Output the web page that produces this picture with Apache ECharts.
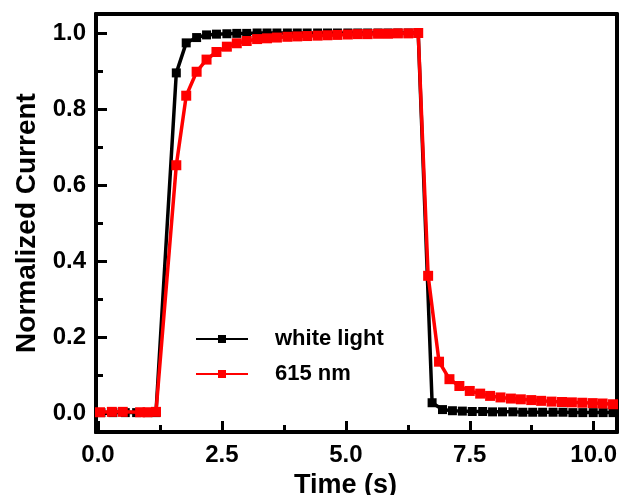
<!DOCTYPE html>
<html><head><meta charset="utf-8">
<script src="https://cdn.jsdelivr.net/npm/echarts@6/dist/echarts.min.js"></script>
<style>html,body{margin:0;padding:0;background:#fff}#c{width:623px;height:495px}</style>
</head><body><div id="c"></div>
<script>
// ---- data ----
const timeWhite = [0.06,0.30,0.55,0.78,1.00,1.17,1.58,1.78,1.99,2.19,2.39,2.60,2.80,3.00,3.21,3.41,3.61,3.82,4.02,4.22,4.43,4.63,4.83,5.04,5.24,5.44,5.65,5.85,6.05,6.26,6.46,6.74,6.95,7.15,7.35,7.55,7.76,7.96,8.16,8.37,8.57,8.77,8.97,9.18,9.38,9.58,9.78,9.99,10.19,10.39];
const whiteLight = [0.001,0.001,0.001,0.001,0.001,0.001,0.895,0.974,0.988,0.995,0.997,0.998,0.999,0.999,1.0,1.0,1.0,1.0,1.0,1.0,1.0,1.0,1.0,1.0,1.0,1.0,1.0,1.0,1.0,1.0,1.0,0.027,0.009,0.006,0.005,0.004,0.004,0.003,0.003,0.003,0.002,0.002,0.002,0.002,0.002,0.001,0.001,0.001,0.001,0.001];
const timeRed = [0.04,0.28,0.50,0.85,1.00,1.17,1.58,1.78,1.99,2.19,2.39,2.60,2.80,3.00,3.21,3.41,3.61,3.82,4.02,4.22,4.43,4.63,4.83,5.04,5.24,5.44,5.65,5.85,6.05,6.26,6.46,6.66,6.88,7.09,7.29,7.50,7.71,7.91,8.12,8.33,8.53,8.74,8.94,9.15,9.36,9.56,9.77,9.98,10.18,10.39];
const nm615 = [0.002,0.003,0.003,0.002,0.002,0.003,0.652,0.835,0.898,0.930,0.950,0.964,0.973,0.979,0.984,0.986,0.988,0.990,0.991,0.992,0.993,0.994,0.995,0.996,0.997,0.997,0.998,0.998,0.999,0.999,1.0,0.361,0.135,0.089,0.071,0.058,0.051,0.045,0.041,0.038,0.036,0.034,0.032,0.030,0.029,0.028,0.027,0.026,0.025,0.023];
const xMajor = [0,2.5,5,7.5,10];
const xMinor = [1.25,3.75,6.25,8.75];
const yMajor = [0,0.2,0.4,0.6,0.8,1.0];
const yMinor = [0.1,0.3,0.5,0.7,0.9];
const seriesNames = ['white light','615 nm'];

const FONT = 'Liberation Sans, Arial, sans-serif';
const pair = (t,v) => t.map((x,i)=>[x,v[i]]);
const chart = echarts.init(document.getElementById('c'));
function L(){ return {show:true, onZero:false, lineStyle:{color:'#000', width:4}}; }
chart.setOption({
  animation:false,
  grid:{left:96, right:6, top:14, bottom:63, containLabel:false, outerBoundsMode:'none'},
  legend:{
    left:190, top:323, orient:'vertical', itemWidth:52, itemHeight:10, itemGap:13,
    textStyle:{fontFamily:FONT, fontWeight:'bold', fontSize:22, color:'#000', padding:[0,0,0,22]},
    data:seriesNames
  },
  xAxis:[
    {type:'value', min:-0.04, max:10.47, position:'bottom', splitLine:{show:false}, axisLine:L(),
     name:'Time (s)', nameLocation:'middle', nameGap:29,
     nameTextStyle:{fontFamily:FONT, fontWeight:'bold', fontSize:27, color:'#000', padding:[0,22,0,0]},
     axisTick:{show:true, inside:true, length:11, lineStyle:{width:3,color:'#000'}, customValues:xMajor},
     axisLabel:{show:true, margin:11, fontFamily:FONT, fontWeight:'bold', fontSize:24, color:'#000', customValues:xMajor, formatter:v=>v.toFixed(1)}},
    {type:'value', min:-0.04, max:10.47, position:'bottom', splitLine:{show:false}, axisLine:L(),
     axisTick:{show:true, inside:true, length:7, lineStyle:{width:3,color:'#000'}, customValues:xMinor},
     axisLabel:{show:true, customValues:xMinor, formatter:()=>''}},
    {type:'value', min:-0.04, max:10.47, position:'top', splitLine:{show:false}, axisLine:L(), axisTick:{show:false}, axisLabel:{show:false}}
  ],
  yAxis:[
    {type:'value', min:-0.05, max:1.05, position:'left', splitLine:{show:false}, axisLine:L(),
     name:'Normalized Current', nameLocation:'middle', nameGap:55, nameRotate:90,
     nameTextStyle:{fontFamily:FONT, fontWeight:'bold', fontSize:28, color:'#000'},
     axisTick:{show:true, inside:true, length:11, lineStyle:{width:3,color:'#000'}, customValues:yMajor},
     axisLabel:{show:true, margin:10, fontFamily:FONT, fontWeight:'bold', fontSize:24, color:'#000', customValues:yMajor, formatter:v=>v.toFixed(1)}},
    {type:'value', min:-0.05, max:1.05, position:'left', splitLine:{show:false}, axisLine:L(),
     axisTick:{show:true, inside:true, length:7, lineStyle:{width:3,color:'#000'}, customValues:yMinor},
     axisLabel:{show:true, customValues:yMinor, formatter:()=>''}},
    {type:'value', min:-0.05, max:1.05, position:'right', splitLine:{show:false}, axisLine:L(), axisTick:{show:false}, axisLabel:{show:false}}
  ],
  series:[
    {name:seriesNames[0], type:'line', data:pair(timeWhite, whiteLight), xAxisIndex:0, yAxisIndex:0,
     symbol:'rect', symbolSize:9, lineStyle:{color:'#000', width:3.5}, itemStyle:{color:'#000'}, z:2},
    {name:seriesNames[1], type:'line', data:pair(timeRed, nm615), xAxisIndex:0, yAxisIndex:0,
     symbol:'rect', symbolSize:10, lineStyle:{color:'#ff0000', width:3.5}, itemStyle:{color:'#ff0000'}, z:3}
  ]
});
</script></body></html>
